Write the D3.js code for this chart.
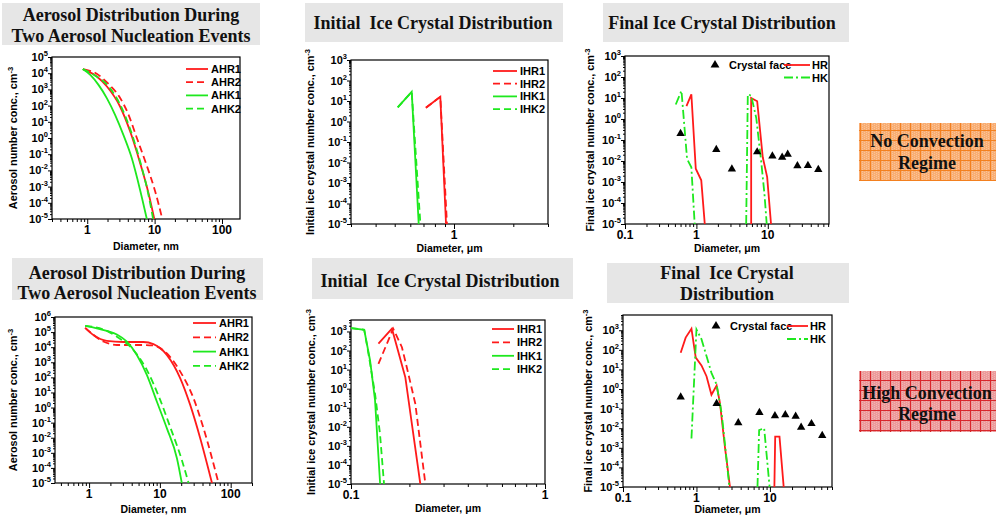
<!DOCTYPE html>
<html>
<head>
<meta charset="utf-8">
<script src="https://cdn.jsdelivr.net/npm/d3@7"></script>
<style>
  body { margin: 0; background: #fff; }
  svg { display: block; font-family: "Liberation Sans", Arial, sans-serif; }
  .ttl { font-family: "Liberation Serif", "Times New Roman", serif; font-weight: bold; font-size: 18px; fill: #111; white-space: pre; }
  .lbl { font-weight: bold; fill: #000; }
</style>
</head>
<body>
<svg id="chart" width="1003" height="519"></svg>
<script>
// ---- data: [diameter, number conc.] ----
// no convection regime
const topAHR1 = [[0.86,1.8e4],[1.0,1.4e4],[1.4,6e3],[1.96,1.5e3],[3.08,85],[4.34,2.5],[6.1,0.028],[8.1,4e-4],[9.9,1e-5]]
const topAHR2 = [[0.9,1.7e4],[1.4,9e3],[2,2.5e3],[3,350],[4,35],[5.45,1],[7.5,0.025],[10.2,5e-4],[13,1e-5]]
const topAHK1 = [[0.86,1.8e4],[1.11,7.8e3],[1.47,1.9e3],[1.96,280],[2.6,26],[3.45,1.5],[4.59,0.056],[6.1,6e-4],[7.66,1e-5]]
const topAHK2 = [[0.86,1.8e4],[1.1,1.1e4],[1.5,5e3],[2,1.8e3],[3.1,110],[4.4,3],[6.1,0.035],[8,4e-4],[9.5,1e-5]]

const topIHR1 = [[0.72,4.7],[0.852,16],[0.911,1e-5]]
const topIHR2 = [[0.72,4.7],[0.852,16],[0.921,1e-5]]
const topIHK1 = [[0.518,4.9],[0.61,28],[0.662,1e-5]]
const topIHK2 = [[0.518,4.9],[0.61,28],[0.675,1e-5]]

const topHR = [[0.726,4.1],[0.85,15],[0.98,4.3e-3],[1.17,1.2e-3],[1.31,1e-5], null,
               [5.85,1e-5],[5.85,10],[7.1,7],[8.5,0.015],[9.8,1.7e-3],[11.1,1e-5]]
const topHK = [[0.514,4.9],[0.618,22],[0.74,0.0126],[0.85,5e-3],[0.946,1e-5], null,
               [4.98,1e-5],[5.25,15],[5.85,13],[6.9,1.1],[8.07,0.01],[8.97,2.8e-4],[9.66,1e-5]]
const topFace = [[0.6,0.2],[1.9,0.035],[3.14,4.1e-3],[7.1,0.027],[11.6,0.017],[15.9,0.015],[19,0.021],[26,5.9e-3],[36.5,6e-3],[51,3.9e-3]]

// high convection regime
const botAHR1 = [[0.88,1.9e5],[1.15,6.4e4],[1.78,2.6e4],[3.06,2.2e4],[5.86,2.2e4],[8.1,1.6e4],[12.6,3e3],[19.4,87],[26.8,1.5],[37.2,9e-3],[54.4,1e-5]]
const botAHR2 = [[0.88,1.9e5],[1.59,2.4e4],[2.47,1.4e4],[5.27,1.4e4],[8.1,1.3e4],[11.3,6e3],[19.4,240],[29.8,4.2],[41.3,0.043],[67.3,1e-5]]
const botAHK1 = [[0.88,2.6e5],[1.78,1.2e5],[2.47,7e4],[3.42,2.3e4],[4.73,3e3],[6.54,145],[9.05,2.5],[12.6,0.04],[17.4,4.4e-4],[20.4,1e-5]]
const botAHK2 = [[0.88,2.6e5],[1.78,1.2e5],[2.47,5e4],[4.23,6.5e3],[6.54,310],[10.1,3.2],[13.9,0.055],[20.4,3.4e-4],[25.4,1e-5]]

const botIHR1 = [[0.1385,230],[0.1626,1400],[0.1905,4],[0.2277,1e-5]]
const botIHR2 = [[0.1385,20],[0.165,1400],[0.183,150],[0.194,13],[0.2146,0.16],[0.2418,1e-5]]
const botIHK1 = [[0.1,1500],[0.117,1230],[0.1254,30],[0.133,0.25],[0.1413,1e-5]]
const botIHK2 = [[0.1,1500],[0.117,1230],[0.123,70],[0.133,0.55],[0.141,4.5e-3],[0.148,1e-5]]

const botHR = [[0.61,71],[0.713,420],[0.855,1200],[0.978,40],[1.17,16],[1.37,4.5],[1.6,0.51],[1.88,1.5],[2.09,0.19],[2.44,1.1e-3],[2.86,1e-5], null,
               [11.5,1e-5],[11.8,3.7e-3],[13.5,3.7e-3],[15.4,1e-5]]
const botHK = [[0.855,3e-3],[1.0,1100],[1.17,350],[1.37,48],[1.6,6.7],[1.88,1.7],[2.2,0.059],[2.58,2.3e-4],[2.8,1e-5], null,
               [6.77,1e-5],[7.13,8e-3],[8.35,0.01],[9.9,1e-5]]
const botFace = [[0.61,0.39],[1.88,0.18],[3.71,0.019],[7.2,0.063],[11.7,0.043],[16.2,0.048],[22.4,0.04],[26.6,0.011],[36.8,0.017],[51.5,4.2e-3]]

const aeroNames = ["AHR1", "AHR2", "AHK1", "AHK2"]
const iceNames = ["IHR1", "IHR2", "IHK1", "IHK2"]
const aeroTitle = ["Aerosol Distribution During", "Two Aerosol Nucleation Events"]
const initTitle = ["Initial  Ice Crystal Distribution"]
const finalTitleTop = ["Final Ice Crystal Distribution"]
const finalTitleBot = ["Final  Ice Crystal", "Distribution"]

const RED = "#ff1a1a", GREEN = "#1ee81e"
const DASH = "7,4", DASHDOT = "9,3,2,3"

const svg = d3.select("#chart")

// title boxes
function titleBox(x, y, w, h, lines, cx, ys) {
    svg.append("rect").attr("x", x).attr("y", y).attr("width", w).attr("height", h).attr("fill", "#e6e6e6")
    lines.forEach((t, i) => {
        svg.append("text").attr("class", "ttl").attr("x", cx).attr("y", ys[i])
            .attr("text-anchor", "middle").attr("dominant-baseline", "central").text(t)
    })
}
titleBox(2, 3, 258, 42, aeroTitle, 131, [15, 36])
titleBox(305, 3, 258, 39, initTitle, 433, [23])
titleBox(603, 3, 246, 39, finalTitleTop, 722, [23])
titleBox(12, 258, 251, 42, aeroTitle, 137, [273, 293])
titleBox(312, 258, 261, 41, initTitle, 440, [281])
titleBox(607, 263, 242, 40, finalTitleBot, 727, [273, 294])

function logTicks(dom) {
    let major = [], minor = []
    for (let e = Math.floor(Math.log10(dom[0])); e <= Math.ceil(Math.log10(dom[1])); e++) {
        for (let m = 1; m <= 9; m++) {
            let v = m * Math.pow(10, e)
            if (v < dom[0] * 0.999 || v > dom[1] * 1.001) continue
            if (m === 1) major.push(v); else minor.push(v)
        }
    }
    return {major, minor}
}

function panel(p, idx) {
    const g = svg.append("g")
    const x = d3.scaleLog().domain(p.xd).range([p.l, p.r])
    const y = d3.scaleLog().domain(p.yd).range([p.b, p.t])

    g.append("clipPath").attr("id", "clip" + idx).append("rect")
        .attr("x", p.l).attr("y", p.t - 1).attr("width", p.r - p.l).attr("height", p.b - p.t + 1)

    const xt = logTicks(p.xd), yt = logTicks(p.yd)

    // x axis
    g.append("g").attr("transform", `translate(0,${p.b})`)
        .call(d3.axisBottom(x).tickValues(xt.minor).tickSize(3).tickFormat(""))
        .call(a => a.select(".domain").remove())
    g.append("g").attr("transform", `translate(0,${p.b})`)
        .call(d3.axisBottom(x).tickValues(xt.major).tickSize(5).tickFormat(""))
        .call(a => a.select(".domain").remove())
    g.selectAll("text.xl").data(p.xLabels).enter().append("text")
        .attr("class", "lbl").attr("x", d => x(d)).attr("y", p.b + 15)
        .attr("text-anchor", "middle").attr("font-size", "12px").text(d => d)

    // y axis
    g.append("g").attr("transform", `translate(${p.l},0)`)
        .call(d3.axisLeft(y).tickValues(yt.minor).tickSize(2).tickFormat(""))
        .call(a => a.select(".domain").remove())
    g.append("g").attr("transform", `translate(${p.l},0)`)
        .call(d3.axisLeft(y).tickValues(yt.major).tickSize(4).tickFormat(""))
        .call(a => a.select(".domain").remove())
    yt.major.forEach(v => {
        const t = g.append("text").attr("class", "lbl").attr("x", p.l - 4).attr("y", y(v) + 4)
            .attr("text-anchor", "end").attr("font-size", "11px")
        t.append("tspan").text("10")
        t.append("tspan").attr("dy", -5).attr("font-size", "7.5px").text(Math.round(Math.log10(v)))
    })

    // frame
    g.append("rect").attr("x", p.l).attr("y", p.t).attr("width", p.r - p.l).attr("height", p.b - p.t)
        .attr("fill", "none").attr("stroke", "#000").attr("stroke-width", 1.2)

    // axis titles
    g.append("text").attr("class", "lbl").attr("font-size", "10.5px")
        .attr("x", (p.l + p.r) / 2).attr("y", p.b + p.xtY).attr("text-anchor", "middle").text(p.xTitle)
    const yl = g.append("text").attr("class", "lbl").attr("font-size", "10.8px")
        .attr("transform", `translate(${p.l - p.ytX},${(p.t + p.b) / 2}) rotate(-90)`).attr("text-anchor", "middle")
    yl.append("tspan").text(p.yTitle)
    yl.append("tspan").attr("dy", -4).attr("font-size", "7.5px").text("-3")

    // curves
    const plot = g.append("g").attr("clip-path", `url(#clip${idx})`)
    p.series.forEach(s => {
        const line = d3.line().defined(d => d != null).x(d => x(d[0])).y(d => y(d[1]))
            .curve(p.smooth ? d3.curveMonotoneX : d3.curveLinear)
        plot.append("path").datum(s.data).attr("d", line)
            .attr("fill", "none").attr("stroke", s.color).attr("stroke-width", 1.8)
            .attr("stroke-dasharray", s.dash)
    })
    if (p.points) {
        plot.selectAll("path.pt").data(p.points).enter().append("path")
            .attr("d", d3.symbol(d3.symbolTriangle).size(30))
            .attr("transform", d => `translate(${x(d[0])},${y(d[1])})`).attr("fill", "#000")
    }

    // legend
    const lg = p.legend
    if (!p.points) {
        p.series.forEach((s, i) => {
            const yy = lg.y + i * lg.dy
            g.append("line").attr("x1", lg.x).attr("x2", lg.x + lg.w).attr("y1", yy).attr("y2", yy)
                .attr("stroke", s.color).attr("stroke-width", 1.8).attr("stroke-dasharray", s.dash)
            g.append("text").attr("class", "lbl").attr("font-size", "11px")
                .attr("x", lg.x + lg.w + 3).attr("y", yy + 4).text(s.name)
        })
    } else {
        g.append("path").attr("d", d3.symbol(d3.symbolTriangle).size(34))
            .attr("transform", `translate(${lg.x},${lg.y})`).attr("fill", "#000")
        g.append("text").attr("class", "lbl").attr("font-size", "11px")
            .attr("x", lg.x + 14).attr("y", lg.y + 4).text("Crystal face")
        p.series.forEach((s, i) => {
            const yy = lg.y + i * lg.dy
            g.append("line").attr("x1", lg.lx).attr("x2", lg.lx + lg.w).attr("y1", yy).attr("y2", yy)
                .attr("stroke", s.color).attr("stroke-width", 1.8).attr("stroke-dasharray", s.dash)
            g.append("text").attr("class", "lbl").attr("font-size", "11px")
                .attr("x", lg.lx + lg.w + 2).attr("y", yy + 4).text(s.name)
        })
    }
}

function aeroSeries(a, b, c, d, names) {
    return [
        {data: a, color: RED, dash: null, name: names[0]},
        {data: b, color: RED, dash: DASH, name: names[1]},
        {data: c, color: GREEN, dash: null, name: names[2]},
        {data: d, color: GREEN, dash: DASH, name: names[3]}
    ]
}

const panels = [
    {l: 52, r: 240, t: 57, b: 219, xd: [0.3, 185], yd: [1e-5, 1e5], xLabels: [1, 10, 100], smooth: true,
     xTitle: "Diameter, nm", yTitle: "Aerosol number conc., cm", xtY: 31, ytX: 35,
     series: aeroSeries(topAHR1, topAHR2, topAHK1, topAHK2, aeroNames),
     legend: {x: 186, y: 69, dy: 13.2, w: 22}},
    {l: 351, r: 548, t: 60, b: 224, xd: [0.3, 3], yd: [1e-5, 1e3], xLabels: [1],
     xTitle: "Diameter, \u03bcm", yTitle: "Initial ice crystal number conc., cm", xtY: 28, ytX: 37,
     series: aeroSeries(topIHR1, topIHR2, topIHK1, topIHK2, iceNames),
     legend: {x: 493, y: 71, dy: 12.7, w: 24}},
    {l: 625, r: 829, t: 56, b: 224, xd: [0.1, 72], yd: [1e-5, 1e3], xLabels: [0.1, 1, 10],
     xTitle: "Diameter, \u03bcm", yTitle: "Final ice crystal number conc., cm", xtY: 28, ytX: 31,
     series: [{data: topHR, color: RED, dash: null, name: "HR"}, {data: topHK, color: GREEN, dash: DASHDOT, name: "HK"}],
     points: topFace,
     legend: {x: 715, y: 65, lx: 784, dy: 12.5, w: 26}},
    {l: 55, r: 252, t: 317, b: 483, xd: [0.33, 200], yd: [1e-5, 1e6], xLabels: [1, 10, 100], smooth: true,
     xTitle: "Diameter, nm", yTitle: "Aerosol number conc., cm", xtY: 30, ytX: 38,
     series: aeroSeries(botAHR1, botAHR2, botAHK1, botAHK2, aeroNames),
     legend: {x: 193, y: 323, dy: 14.3, w: 23}},
    {l: 351, r: 545, t: 320, b: 484, xd: [0.1, 1], yd: [1e-5, 4000], xLabels: [0.1, 1],
     xTitle: "Diameter, \u03bcm", yTitle: "Initial ice crystal number conc., cm", xtY: 28, ytX: 36,
     series: aeroSeries(botIHR1, botIHR2, botIHK1, botIHK2, iceNames),
     legend: {x: 492, y: 329, dy: 13.4, w: 22}},
    {l: 623, r: 832, t: 315, b: 487, xd: [0.1, 70], yd: [1e-5, 6000], xLabels: [0.1, 1, 10],
     xTitle: "Diameter, \u03bcm", yTitle: "Final ice crystal number conc., cm", xtY: 26, ytX: 31,
     series: [{data: botHR, color: RED, dash: null, name: "HR"}, {data: botHK, color: GREEN, dash: DASHDOT, name: "HK"}],
     points: botFace,
     legend: {x: 716, y: 326, lx: 787, dy: 13, w: 21}}
]
panels.forEach(panel)

// regime boxes with grid texture
const defs = svg.append("defs")
function gridPattern(id, base, dot, line) {
    const pt = defs.append("pattern").attr("id", id).attr("width", 10).attr("height", 10)
        .attr("patternUnits", "userSpaceOnUse")
    pt.append("rect").attr("width", 10).attr("height", 10).attr("fill", base)
    for (let i = 0; i < 10; i += 2) {
        for (let j = (i / 2) % 2; j < 10; j += 2) {
            pt.append("rect").attr("x", i).attr("y", j).attr("width", 1).attr("height", 1).attr("fill", dot)
        }
    }
    pt.append("path").attr("d", "M0 0.5H10M0.5 0V10").attr("stroke", line).attr("stroke-width", 1)
}
gridPattern("orangeGrid", "#f9ad72", "#f8c49a", "#f3801f")
gridPattern("redGrid", "#ec9a9a", "#f2b4b4", "#d9262b")

const regimes = [
    {lines: ["No Convection", "Regime"], y: 123, h: 58, fill: "url(#orangeGrid)", ty: [141, 163]},
    {lines: ["High Convection", "Regime"], y: 371, h: 61, fill: "url(#redGrid)", ty: [393, 414]}
]
regimes.forEach(r => {
    svg.append("rect").attr("x", 859).attr("y", r.y).attr("width", 137).attr("height", r.h).attr("fill", r.fill)
    r.lines.forEach((t, i) => {
        svg.append("text").attr("class", "ttl").attr("x", 927).attr("y", r.ty[i])
            .attr("text-anchor", "middle").attr("dominant-baseline", "central").text(t)
    })
})
</script>
</body>
</html>
